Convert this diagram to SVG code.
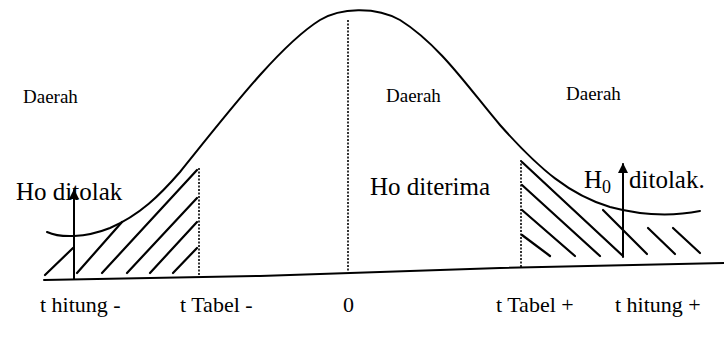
<svg xmlns="http://www.w3.org/2000/svg" width="724" height="343" viewBox="0 0 724 343">
<defs>
<style>
.ln{fill:none;stroke:#000;stroke-width:2;stroke-linecap:round;stroke-linejoin:round}
.ht{fill:none;stroke:#000;stroke-width:2.2;stroke-linecap:round}
.dot{fill:none;stroke:#000;stroke-width:1.6;stroke-dasharray:2 1.5}
.t{font-family:"Liberation Serif","Times New Roman",serif;fill:#000}
.sm{font-size:19px}
.big{font-size:25px}
.lab{font-size:22px}
</style>
<marker id="ah" viewBox="0 0 10 10" refX="9" refY="5" markerWidth="5" markerHeight="5" orient="auto" markerUnits="strokeWidth">
<path d="M0,0 L10,5 L0,10 Z" fill="#000"/>
</marker>
</defs>
<rect width="724" height="343" fill="#fff"/>
<g id="curve">
<path class="ln" d="M47,232 C60,238 85,238 110,228 C140,215 160,195 180,172 C230,110 280,45 320,20 C340,8 375,6 400,20 C440,45 470,90 500,125 C540,170 570,195 610,207 C640,215 670,217 700,211"/>
</g>
<g id="axis">
<polyline class="ln" points="44,280 260,276 500,268 724,263"/>
</g>
<g id="dotted">
<line class="dot" x1="348" y1="20" x2="348" y2="272"/>
<line class="dot" x1="199" y1="168" x2="199" y2="275"/>
<line class="dot" x1="521" y1="160" x2="521" y2="267"/>
</g>
<g id="hatch-left">
<line class="ht" x1="45" y1="275" x2="73" y2="248"/>
<line class="ht" x1="77" y1="273" x2="122" y2="222"/>
<line class="ht" x1="102" y1="273" x2="197" y2="170"/>
<line class="ht" x1="127" y1="273" x2="197" y2="198"/>
<line class="ht" x1="150" y1="273" x2="197" y2="222"/>
<line class="ht" x1="173" y1="273" x2="197" y2="248"/>
</g>
<g id="hatch-right">
<line class="ht" x1="522" y1="162" x2="623" y2="256"/>
<line class="ht" x1="522" y1="185" x2="600" y2="256"/>
<line class="ht" x1="522" y1="210" x2="575" y2="256"/>
<line class="ht" x1="522" y1="235" x2="550" y2="256"/>
<line class="ht" x1="603" y1="210" x2="647" y2="254"/>
<line class="ht" x1="648" y1="228" x2="675" y2="254"/>
<line class="ht" x1="673" y1="228" x2="700" y2="253"/>
</g>
<g id="connectors">
<line class="ln" x1="74" y1="279" x2="74" y2="190" marker-end="url(#ah)"/>
<line class="ln" x1="623" y1="257" x2="623" y2="164" marker-end="url(#ah)"/>
</g>
<g id="label-daerah-left"><text class="t sm" x="23" y="103">Daerah</text></g>
<g id="label-daerah-mid"><text class="t sm" x="386" y="102">Daerah</text></g>
<g id="label-daerah-right"><text class="t sm" x="566" y="100">Daerah</text></g>
<g id="label-ho-ditolak"><text class="t big" x="16" y="200">Ho ditolak</text></g>
<g id="label-ho-diterima"><text class="t big" x="370" y="195">Ho diterima</text></g>
<g id="label-h0-ditolak"><text class="t big" x="584" y="188">H<tspan font-size="18" dy="5">0</tspan></text><text class="t big" x="629" y="188">ditolak.</text></g>
<g id="axis-labels">
<text class="t lab" x="40" y="312">t hitung -</text>
<text class="t lab" x="180" y="312">t Tabel -</text>
<text class="t lab" x="343" y="312">0</text>
<text class="t lab" x="496" y="312">t Tabel +</text>
<text class="t lab" x="615" y="312">t hitung +</text>
</g>
</svg>
